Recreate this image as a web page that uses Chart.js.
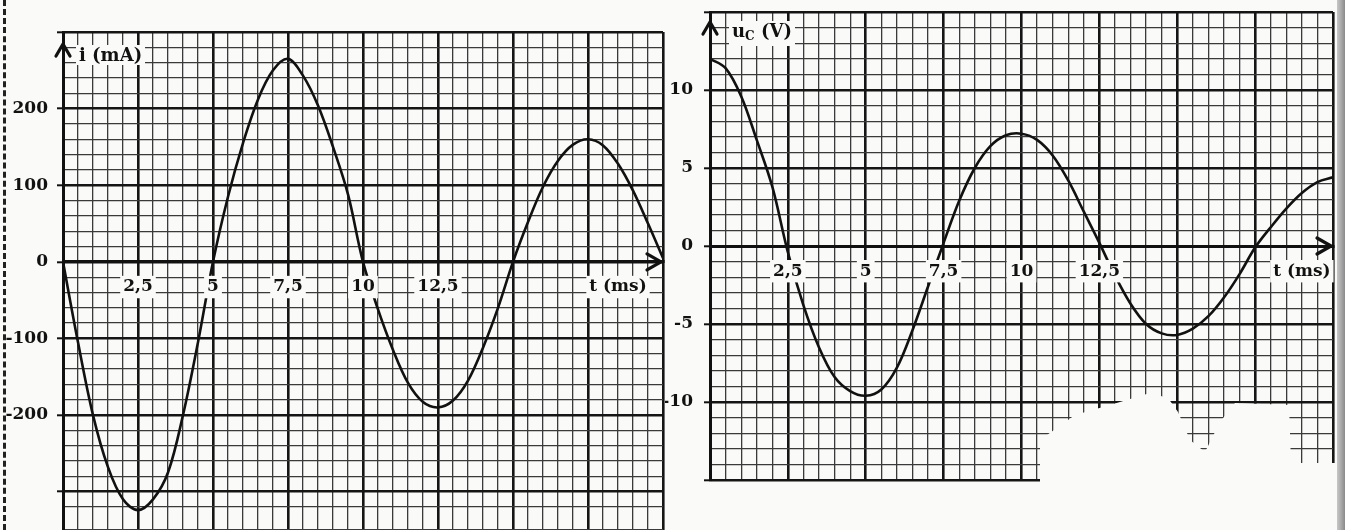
<!DOCTYPE html>
<html><head><meta charset="utf-8">
<script src="https://cdn.jsdelivr.net/npm/chart.js@4"></script>
<style>
html,body{margin:0;padding:0;background:#fafaf8;}
#wrap{position:relative;width:1345px;height:530px;overflow:hidden;background:#fafaf8;}
.box{position:absolute;top:0;height:530px;}
#c1box{left:0;width:668px;}
#c2box{left:665px;width:680px;}
.lbl{position:absolute;font-family:"DejaVu Serif",serif;font-weight:bold;font-size:18px;background:#fafaf8;padding:0 3px;line-height:20px;color:#111;white-space:nowrap;}
.lbl sub{font-size:12px;vertical-align:-3px;}
#dash{position:absolute;left:3px;top:0;height:530px;border-left:3px dashed #222;}
#edge{position:absolute;left:1337px;top:0;width:8px;height:530px;background:linear-gradient(to right,#c8c8c8,#8a8a8a);}
#blob{position:absolute;left:0;top:0;width:1345px;height:530px;background:#fafaf8;
clip-path:polygon(1040px 486px,1040px 440px,1075px 415px,1110px 405px,1150px 393px,1168px 398px,1178px 412px,1190px 440px,1205px 452px,1220px 422px,1235px 403px,1289px 405px,1291px 463px,1337px 463px,1337px 530px,1040px 530px);}
</style>
</head><body>
<div id="wrap">
  <div id="dash"></div>
  <div class="box" id="c1box"><canvas id="c1"></canvas></div>
  <div class="box" id="c2box"><canvas id="c2"></canvas></div>
  <div id="blob"></div>
  <div id="edge"></div>
  <div class="lbl" style="left:76px;top:45px;">i (mA)</div>
  <div class="lbl" style="left:729px;top:21px;">u<sub>C</sub> (V)</div>
</div>
<script>
// ---- data ----
const tValues = [0,0.5,1,1.5,2,2.5,3,3.5,4,4.5,5,5.5,6,6.5,7,7.5,8,8.5,9,9.5,10,10.5,11,11.5,12,12.5,13,13.5,14,14.5,15,15.5,16,16.5,17,17.5,18,18.5,19,19.5,20];
const iValues = [0,-105,-200,-268,-310,-324,-310,-275,-200,-105,0,85,155,212,250,265,243,204,150,88,0,-62,-115,-158,-183,-190,-181,-155,-112,-60,0,52,98,132,153,160,152,128,93,50,5];
const uValues = [12.0,11.4,9.6,6.8,3.8,-0.4,-3.8,-6.5,-8.4,-9.3,-9.6,-9.2,-7.8,-5.4,-2.6,0.2,2.9,5.0,6.4,7.1,7.2,6.8,5.8,4.2,2.2,0.2,-1.9,-3.7,-5.0,-5.6,-5.7,-5.3,-4.5,-3.3,-1.8,-0.1,1.2,2.4,3.4,4.1,4.4];
const iTickLabels = {"2.5":"2,5","5":"5","7.5":"7,5","10":"10","12.5":"12,5","18.5":"t (ms)"};
const uTickLabels = {"2.5":"2,5","5":"5","7.5":"7,5","10":"10","12.5":"12,5","19":"t (ms)"};
const iYLabels = [-200,-100,0,100,200];
const uYLabels = [-10,-5,0,5,10];

const FONT = {family:'"DejaVu Serif", serif', weight:'bold', size:17};
const INK = '#111';
const BG = '#fafaf8';
const MAJ = '#151515', MIN = '#3a3a3a';

function isMajor(v, m){ return Math.abs(v/m - Math.round(v/m)) < 1e-6; }
function xScale(labels){
  const has = v => Object.prototype.hasOwnProperty.call(labels, String(v));
  return {
    type:'linear', min:0, max:20, position:{y:0},
    ticks:{stepSize:0.5, autoSkip:false, maxRotation:0, minRotation:0, z:1, padding:15, color:INK, font:FONT,
      callback:v => has(v) ? labels[String(v)] : '',
      showLabelBackdrop: ctx => has(ctx.tick.value),
      backdropColor: BG, backdropPadding:{x:3,y:1}},
    grid:{drawTicks:false,
      color: ctx => isMajor(ctx.tick.value, 2.5) ? MAJ : MIN,
      lineWidth: ctx => isMajor(ctx.tick.value, 2.5) ? 2.6 : 1.3},
    border:{display:true, width:3, color:INK},
    afterFit: s => { s.paddingLeft = 0; s.paddingRight = 0; }
  };
}
function yScale(min,max,step,major,labels,width,pad){
  return {
    type:'linear', min:min, max:max,
    ticks:{stepSize:step, autoSkip:false, padding:pad, color:INK, font:FONT,
      callback:v => labels.includes(v) ? String(v) : ''},
    grid:{tickLength:6, tickWidth:2,
      tickColor: ctx => (ctx.tick && isMajor(ctx.tick.value, major)) ? INK : 'rgba(0,0,0,0)',
      color: ctx => (ctx.tick && isMajor(ctx.tick.value, major)) ? MAJ : MIN,
      lineWidth: ctx => (ctx.tick && isMajor(ctx.tick.value, major)) ? 2.6 : 1.3},
    border:{display:true, width:3, color:INK},
    afterFit: s => { s.width = width; s.paddingTop = 0; s.paddingBottom = 0; }
  };
}
function arrowPlugin(topOff){
  return {id:'arrows', afterDraw(chart){
    const {ctx, chartArea:a, scales} = chart;
    const y0 = scales.y.getPixelForValue(0);
    const x0 = scales.x.getPixelForValue(0);
    ctx.save(); ctx.strokeStyle = INK; ctx.lineWidth = 3.2; ctx.lineCap='round'; ctx.lineJoin='round';
    const ty = a.top + topOff;
    ctx.beginPath(); ctx.moveTo(x0-7, ty+12); ctx.lineTo(x0, ty); ctx.lineTo(x0+7, ty+12); ctx.stroke();
    const rx = a.right - 2;
    ctx.beginPath(); ctx.moveTo(rx-14, y0-8); ctx.lineTo(rx, y0); ctx.lineTo(rx-14, y0+8); ctx.stroke();
    ctx.restore();
  }};
}
function makeChart(id, values, xLabels, yCfg, pad, topOff){
  return new Chart(document.getElementById(id), {
    type:'line',
    data:{datasets:[{data: tValues.map((t,k)=>({x:t, y:values[k]})), borderColor:INK, borderWidth:2.6,
      pointRadius:0, tension:0.35, fill:false}]},
    options:{responsive:true, maintainAspectRatio:false, animation:false,
      layout:{padding:pad},
      plugins:{legend:{display:false}, tooltip:{enabled:false}},
      scales:{x:xScale(xLabels), y:yCfg}},
    plugins:[arrowPlugin(topOff)]
  });
}
makeChart('c1', iValues, iTickLabels, yScale(-350,300,20,100,iYLabels,63,9), {top:32,right:5,bottom:0,left:0}, 12);
makeChart('c2', uValues, uTickLabels, yScale(-15,15,1,5,uYLabels,45,11), {top:12,right:12,bottom:50,left:0}, 10);
</script>
</body></html>
